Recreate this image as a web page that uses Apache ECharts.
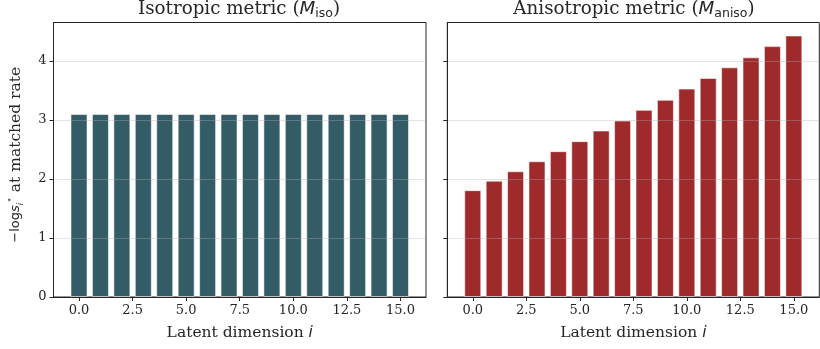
<!DOCTYPE html>
<html>
<head>
<meta charset="utf-8">
<script src="https://cdn.jsdelivr.net/npm/echarts@6/dist/echarts.min.js"></script>
<style>
  html, body { margin: 0; padding: 0; background: #fff; }
  #chart { width: 820px; height: 349px; }
</style>
</head>
<body>
<div id="chart"></div>
<script>
// latent dimensions and -log s_i* values
const dims = [0, 1, 2, 3, 4, 5, 6, 7, 8, 9, 10, 11, 12, 13, 14, 15]
const isoValues = [3.10, 3.10, 3.10, 3.10, 3.10, 3.10, 3.10, 3.10, 3.10, 3.10, 3.10, 3.10, 3.10, 3.10, 3.10, 3.10]
const anisoValues = [1.81, 1.97, 2.13, 2.30, 2.47, 2.64, 2.82, 2.99, 3.17, 3.34, 3.53, 3.71, 3.89, 4.06, 4.25, 4.43]
const xTicks = [0, 2.5, 5, 7.5, 10, 12.5, 15]
const yTicks = [0, 1, 2, 3, 4]

const SERIF = "'DejaVu Serif', serif"
const SANS = "'DejaVu Sans', sans-serif"
const INK = '#262626'

const chart = echarts.init(document.getElementById('chart'))

const mathRich = {
  t: { fontFamily: SERIF, fontWeight: 'normal', fontSize: 18.3, color: INK, lineHeight: 22 },
  m: { fontFamily: SANS, fontWeight: 'normal', fontStyle: 'italic', fontSize: 18.3, color: INK, lineHeight: 22 },
  sub: { fontFamily: SANS, fontWeight: 'normal', fontSize: 12.5, color: INK, verticalAlign: 'bottom', lineHeight: 14 }
}

function xAxis(gridIndex) {
  return {
    type: 'value', gridIndex, min: -1.19, max: 16.19, z: 5,
    name: '{t|Latent dimension }{m|i}',
    nameLocation: 'middle', nameGap: 28,
    nameTextStyle: {
      rich: {
        t: { fontFamily: SERIF, fontSize: 15.5, color: INK },
        m: { fontFamily: SANS, fontStyle: 'italic', fontSize: 15.5, color: INK }
      }
    },
    axisLine: { show: true, onZero: false, lineStyle: { color: INK, width: 1 } },
    axisTick: { show: true, length: 4, customValues: xTicks, lineStyle: { color: INK } },
    axisLabel: {
      customValues: xTicks, margin: 7,
      fontFamily: SERIF, fontSize: 13, color: INK,
      formatter: v => v.toFixed(1)
    },
    splitLine: { show: false }
  }
}

function yAxis(gridIndex, showLabels) {
  return {
    type: 'value', gridIndex, min: 0, max: 4.65, z: 5,
    axisLine: { show: true, onZero: false, lineStyle: { color: INK, width: 1 } },
    axisTick: { show: true, length: 4, customValues: yTicks, lineStyle: { color: INK } },
    axisLabel: {
      show: showLabels, customValues: yTicks, margin: 7,
      fontFamily: SERIF, fontSize: 13, color: INK
    },
    splitLine: { show: true, lineStyle: { color: 'rgba(176,176,176,0.35)', width: 1 } }
  }
}

const option = {
  animation: false,
  backgroundColor: '#fff',
  title: [
    {
      text: '{t|Isotropic metric (}{m|M}{sub|iso}{t|)}',
      left: 234, top: -7, textAlign: 'center',
      textStyle: { rich: mathRich }
    },
    {
      text: '{t|Anisotropic metric (}{m|M}{sub|aniso}{t|)}',
      left: 629, top: -7, textAlign: 'center',
      textStyle: { rich: mathRich }
    }
  ],
  grid: [
    { left: 53.5, top: 22.5, width: 372.5, height: 274.5, show: true, borderColor: INK, borderWidth: 1 },
    { left: 447.3, top: 22.5, width: 372, height: 274.5, show: true, borderColor: INK, borderWidth: 1 }
  ],
  xAxis: [xAxis(0), xAxis(1)],
  yAxis: [
    Object.assign(yAxis(0, true), {
      name: '{m|\u2212log}{s|s}{sub|i}{sup|\u22c6}{t| at matched rate}',
      nameLocation: 'middle', nameGap: 28, nameRotate: 90,
      nameTextStyle: {
        padding: [0, 0, 0, 10],
        rich: {
          t: { fontFamily: SERIF, fontSize: 15.5, color: INK, lineHeight: 20 },
          m: { fontFamily: SANS, fontSize: 13, color: INK, lineHeight: 20 },
          s: { fontFamily: SANS, fontStyle: 'italic', fontSize: 13, color: INK, lineHeight: 20 },
          sub: { fontFamily: SANS, fontStyle: 'italic', fontSize: 9, color: INK, verticalAlign: 'bottom', lineHeight: 12 },
          sup: { fontFamily: SANS, fontSize: 9, color: INK, verticalAlign: 'top', lineHeight: 12 }
        }
      }
    }),
    yAxis(1, false)
  ],
  series: [
    {
      type: 'bar', xAxisIndex: 0, yAxisIndex: 0, barWidth: 17,
      data: dims.map((d, i) => [d, isoValues[i]]),
      itemStyle: { color: '#335c67', borderColor: 'rgba(255,255,255,0.55)', borderWidth: 1 }
    },
    {
      type: 'bar', xAxisIndex: 1, yAxisIndex: 1, barWidth: 17,
      data: dims.map((d, i) => [d, anisoValues[i]]),
      itemStyle: { color: '#9e2a2b', borderColor: 'rgba(255,255,255,0.55)', borderWidth: 1 }
    }
  ]
}

chart.setOption(option)
</script>
</body>
</html>
